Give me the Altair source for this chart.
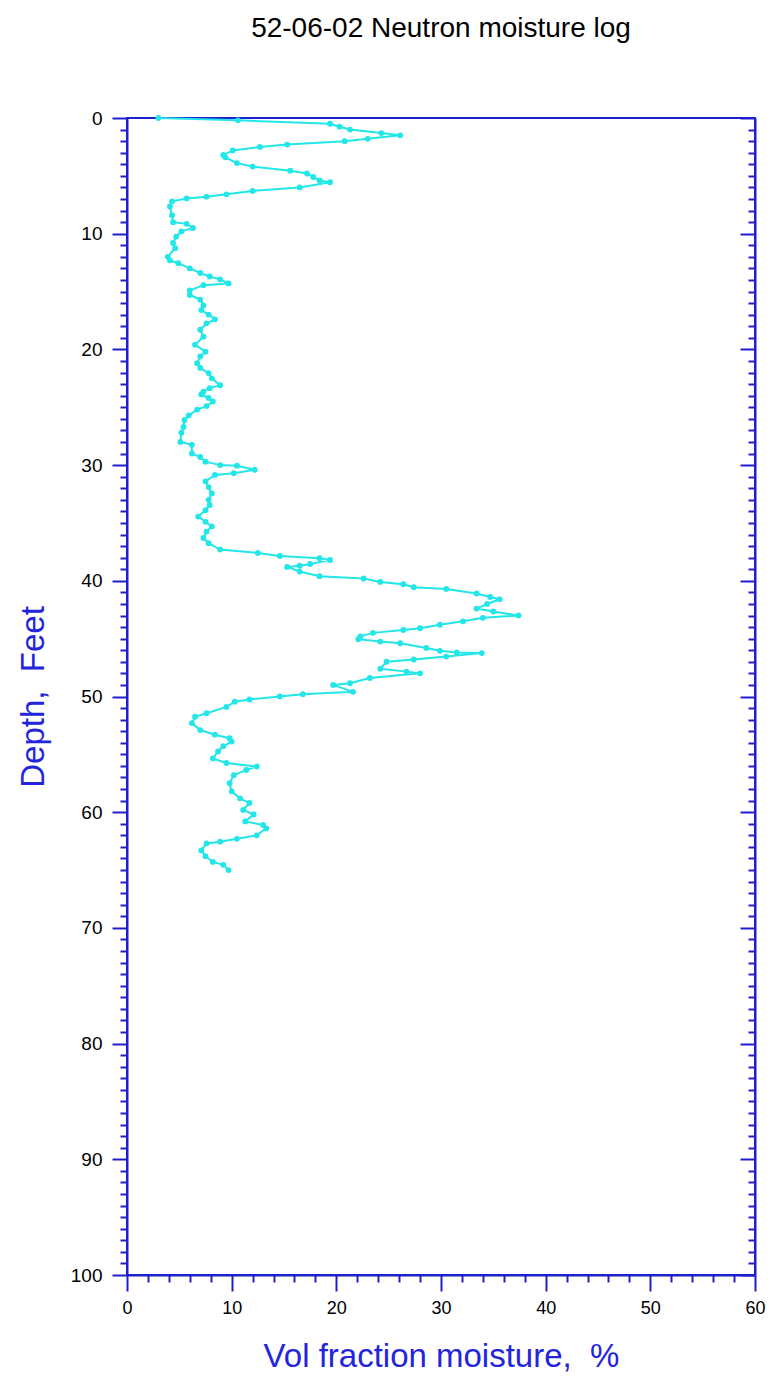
import altair as alt
import pandas as pd

depth_ft = [
    0.0, 0.2, 0.5, 0.75, 1.0, 1.3, 1.5, 1.8, 2.0, 2.3, 2.5, 2.8, 3.2, 3.4, 3.9, 4.2,
    4.55, 4.8, 5.1, 5.4, 5.55, 6.0, 6.3, 6.6, 6.8, 6.95, 7.2, 7.65, 8.4, 9.0, 9.15,
    9.5, 9.8, 10.25, 10.8, 11.25, 12.0, 12.3, 12.55, 13.0, 13.4, 13.7, 13.95, 14.3,
    14.45, 14.9, 15.3, 15.7, 16.2, 16.6, 17.0, 17.4, 17.75, 18.3, 18.9, 19.6, 20.2,
    20.6, 21.2, 21.6, 22.05, 22.5, 23.1, 23.35, 23.65, 23.9, 24.2, 24.5, 24.9, 25.2,
    25.7, 26.1, 26.7, 27.2, 28.0, 28.25, 29.0, 29.3, 29.7, 30.0, 30.05, 30.4, 30.7,
    30.85, 31.4, 31.9, 32.45, 33.0, 33.45, 33.9, 34.45, 34.9, 35.3, 35.75, 36.3,
    36.75, 37.3, 37.6, 37.85, 38.05, 38.2, 38.55, 38.7, 38.8, 39.2, 39.6, 39.8,
    40.1, 40.3, 40.55, 40.7, 41.1, 41.4, 41.6, 42.0, 42.4, 42.65, 43.0, 43.2, 43.5,
    43.8, 44.1, 44.25, 44.5, 44.8, 45.05, 45.25, 45.4, 45.8, 46.05, 46.2, 46.25,
    46.55, 46.8, 47.0, 47.6, 47.85, 48.0, 48.4, 48.85, 49.0, 49.6, 49.8, 50.0,
    50.25, 50.45, 50.9, 51.45, 51.75, 52.3, 52.9, 53.3, 53.6, 53.9, 54.3, 54.75,
    55.35, 55.75, 56.05, 56.35, 56.8, 57.5, 58.2, 58.8, 59.2, 59.8, 60.2, 60.8,
    61.1, 61.4, 62.0, 62.3, 62.55, 62.7, 63.3, 63.8, 64.3, 64.55, 65.0,
]

moisture_pct = [
    3.0, 10.6, 19.4, 20.3, 21.3, 24.3, 26.1, 23.0, 20.8, 15.3, 12.7, 10.1, 9.2, 9.4, 10.5, 12.0,
    15.6, 17.2, 17.8, 18.4, 19.4, 16.5, 12.0, 9.5, 7.6, 5.7, 4.3, 4.1, 4.3, 4.4, 5.7,
    6.3, 5.2, 4.7, 4.4, 4.6, 3.9, 4.1, 4.9, 6.0, 7.0, 7.9, 8.9, 9.7,
    7.3, 6.0, 6.0, 7.0, 7.3, 7.1, 7.8, 8.4, 7.6, 7.0, 7.3, 6.5, 7.5,
    7.0, 6.7, 7.0, 7.8, 8.1, 8.9, 7.9, 7.3, 7.1, 7.8, 8.2, 7.6, 6.7,
    5.9, 5.5, 5.4, 5.2, 5.1, 6.2, 6.2, 7.0, 7.5, 8.9, 10.5, 12.2, 10.2,
    8.4, 7.5, 7.8, 8.1, 7.8, 7.9, 7.5, 6.8, 7.5, 8.1, 7.6, 7.3,
    7.8, 8.9, 12.5, 14.6, 18.4, 19.4, 17.5, 16.5, 15.3, 16.5, 18.4, 22.6,
    24.2, 26.4, 27.4, 30.5, 33.4, 34.7, 35.6, 34.4, 33.4, 35.0, 37.4, 34.0, 32.1,
    29.9, 28.0, 26.4, 23.5, 22.3, 22.1, 24.2, 26.1, 28.6, 29.9, 31.5, 33.9,
    30.5, 27.4, 24.8, 24.2, 26.7, 28.0, 23.2, 21.3, 19.7, 21.6, 16.8, 14.6,
    11.7, 10.3, 9.5, 7.6, 6.5, 6.2, 7.0, 8.4, 9.8, 10.0, 9.2, 8.7,
    8.2, 9.5, 12.4, 11.4, 10.2, 9.8, 10.0, 10.8, 11.7, 11.1, 12.1, 11.3,
    13.0, 13.3, 12.4, 10.5, 8.9, 7.6, 7.1, 7.5, 8.2, 9.2, 9.7,
]

x_tick_values = list(range(0, 61, 2))
y_tick_values = list(range(0, 101, 1))

AXIS_BLUE = "#1e1ecc"
TITLE_BLUE = "#2424dd"
CYAN = "#22e6e8"
FONT = "Liberation Sans"

df = pd.DataFrame({
    "idx": list(range(len(depth_ft))),
    "depth": depth_ft,
    "moisture": moisture_pct,
})

W, H = 628, 1157

x_axis = alt.Axis(
    values=x_tick_values,
    tickSize={"condition": {"test": "datum.value % 10 === 0", "value": 16}, "value": 7},
    labelExpr="datum.value % 10 === 0 ? datum.label : ''",
    labelOverlap=False,
    labelFlush=False,
    labelFontSize=18,
    labelPadding=8,
    title="Vol fraction moisture,\u00a0 %",
    titleFontSize=33,
    titlePadding=23,
)

x_enc = alt.X("moisture:Q", scale=alt.Scale(domain=[0, 60], nice=False, zero=False), axis=x_axis)

y_scale = alt.Scale(domain=[0, 100], nice=False, zero=False, reverse=True)

left_axis = alt.Axis(
    values=y_tick_values,
    tickSize={"condition": {"test": "datum.value % 10 === 0", "value": 15}, "value": 7},
    labelExpr="datum.value % 10 === 0 ? datum.label : ''",
    labelOverlap=False,
    labelFlush=False,
    labelFontSize=19,
    labelPadding=10,
    title="Depth,\u00a0 Feet",
    titleFontSize=33,
    titlePadding=20,
)

right_axis = alt.Axis(
    orient="left",
    offset=-W,
    values=y_tick_values,
    tickSize={"condition": {"test": "datum.value % 10 === 0", "value": 15}, "value": 7},
    labels=False,
    title="",
)

line = alt.Chart(df).mark_line(color=CYAN, strokeWidth=2).encode(
    x=x_enc,
    y=alt.Y("depth:Q", scale=y_scale, axis=left_axis),
    order=alt.Order("idx:Q"),
)

points = alt.Chart(df).mark_point(color=CYAN, filled=True, size=34, opacity=1).encode(
    x=x_enc,
    y=alt.Y("depth:Q", scale=y_scale, axis=right_axis),
)

chart = alt.layer(line, points).resolve_axis(y="independent").properties(
    width=W,
    height=H,
    background="white",
    autosize=alt.AutoSizeParams(type="none"),
    padding={"left": 127, "top": 118, "right": 17, "bottom": 110},
    title=alt.TitleParams(
        "52-06-02 Neutron moisture log",
        fontSize=28,
        font=FONT,
        fontWeight="normal",
        color="black",
        anchor="middle",
        offset=66,
    ),
).configure_view(
    stroke=AXIS_BLUE, strokeWidth=2
).configure_axis(
    grid=False,
    domainColor=AXIS_BLUE,
    domainWidth=2,
    tickColor=AXIS_BLUE,
    tickWidth=2,
    labelColor="black",
    labelFont=FONT,
    titleFont=FONT,
    titleFontWeight="normal",
    titleColor=TITLE_BLUE,
)

chart.save("out.html", embed_options={"renderer": "svg", "actions": False})
